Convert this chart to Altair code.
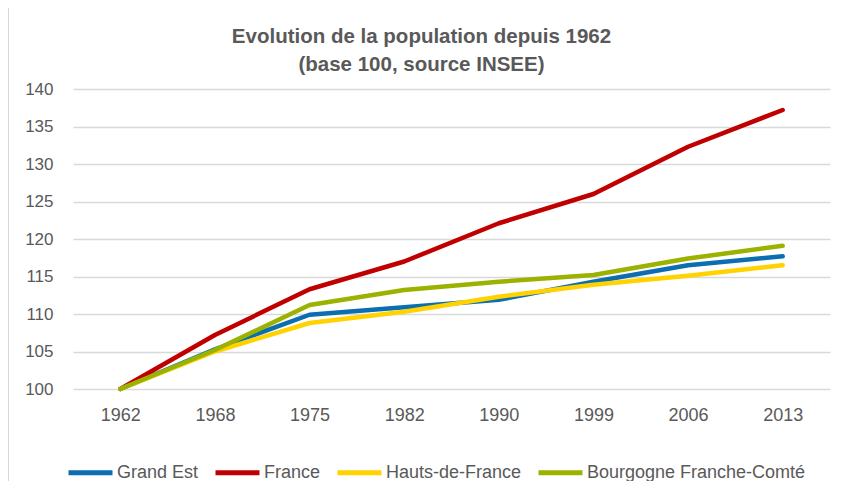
import altair as alt
import pandas as pd

years = ["1962", "1968", "1975", "1982", "1990", "1999", "2006", "2013"]
series = ["Grand Est", "France", "Hauts-de-France", "Bourgogne Franche-Comté"]
grand_est = [100, 105.3, 109.9, 110.9, 111.9, 114.3, 116.5, 117.7]
france = [100, 107.2, 113.3, 117.0, 122.1, 126.0, 132.3, 137.2]
hauts_de_france = [100, 105.0, 108.8, 110.3, 112.3, 113.9, 115.1, 116.5]
bourgogne = [100, 105.2, 111.2, 113.2, 114.3, 115.2, 117.4, 119.1]
colors = ["#0A6EB0", "#C00000", "#FFD200", "#9BB300"]

rows = []
for i, (name, vals) in enumerate(zip(series, [grand_est, france, hauts_de_france, bourgogne])):
    for y, v in zip(years, vals):
        rows.append({"Année": y, "Série": name, "Indice": v, "ordre": i})
df = pd.DataFrame(rows)

FONT = "Liberation Sans"
GREY = "#595959"

lines = alt.Chart(df).mark_line(strokeWidth=4.5, strokeCap="round", strokeJoin="round").encode(
    x=alt.X("Année:O", sort=years, title=None,
            scale=alt.Scale(type="point", padding=0.5),
            axis=alt.Axis(labelAngle=0, domain=False, ticks=False, grid=False,
                          labelPadding=17, labelFontSize=18, labelColor=GREY, labelFont=FONT)),
    y=alt.Y("Indice:Q", title=None,
            scale=alt.Scale(domain=[100, 140], nice=False, zero=False),
            axis=alt.Axis(values=[100, 105, 110, 115, 120, 125, 130, 135, 140], domain=False, ticks=False,
                          gridColor="#D9D9D9", gridWidth=1.3, labelPadding=20,
                          labelFontSize=17, labelColor=GREY, labelFont=FONT)),
    color=alt.Color("Série:N", sort=series,
                    scale=alt.Scale(domain=series, range=colors),
                    legend=alt.Legend(title=None, orient="none", direction="horizontal",
                                      legendX=-7, legendY=359,
                                      symbolType="stroke", symbolSize=1936, symbolStrokeWidth=5,
                                      labelFontSize=18, labelColor=GREY, labelFont=FONT,
                                      labelLimit=400, labelOffset=2, columnPadding=6)),
    detail="ordre:O",
)

border = alt.Chart(pd.DataFrame({"a": [0]})).mark_rule(color="#D9D9D9", strokeWidth=2).encode(
    x=alt.value(-65), x2=alt.value(-65), y=alt.value(-83), y2=alt.value(392)
)
border_top = alt.Chart(pd.DataFrame({"a": [0]})).mark_rule(color="#D9D9D9", strokeWidth=2).encode(
    x=alt.value(-65), x2=alt.value(780), y=alt.value(-83)
)

chart = alt.layer(border, border_top, lines).properties(
    width=757, height=300,
    autosize=alt.AutoSizeParams(type="none"),
    padding={"left": 65, "top": 81, "right": 9, "bottom": 92},
    title=alt.TitleParams(
        text=["Evolution de la population depuis 1962", "(base 100, source INSEE)"],
        font=FONT, fontSize=20.5, fontWeight="bold", color=GREY,
        anchor="middle", dx=-30, offset=0, dy=70, lineHeight=28,
    ),
).configure_view(stroke=None)

chart.save("out.html", embed_options={"renderer": "svg", "actions": False})
